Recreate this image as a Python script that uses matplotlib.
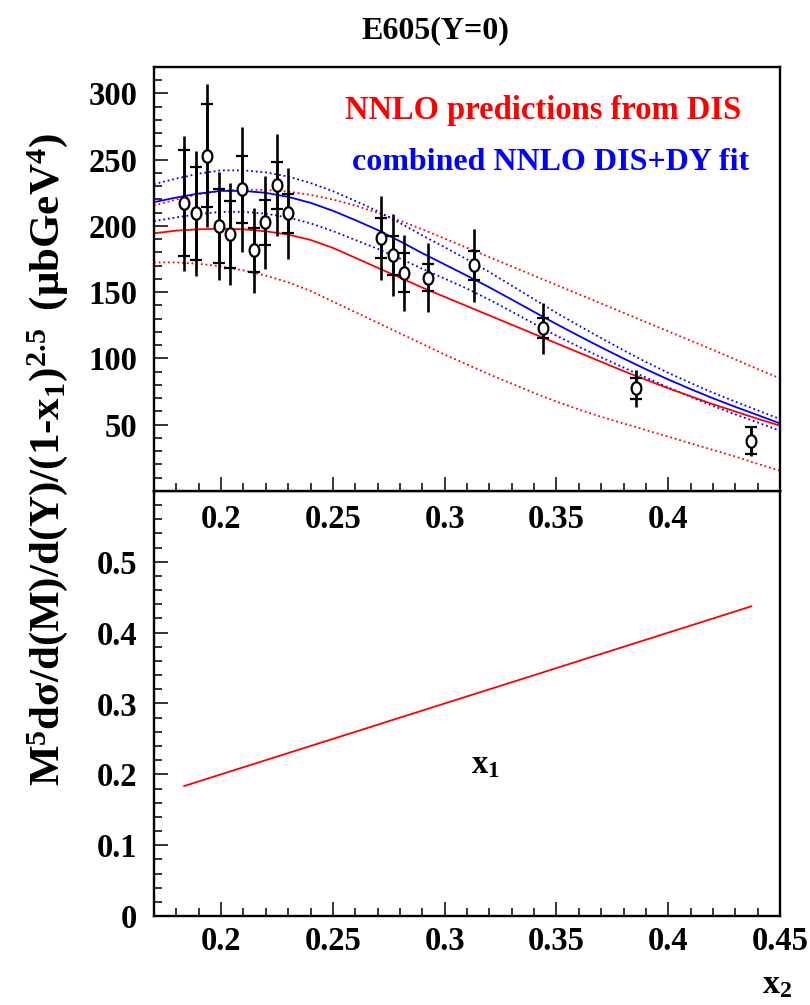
import matplotlib
matplotlib.use('Agg')
import matplotlib.pyplot as plt
from matplotlib.ticker import MultipleLocator, FixedLocator, FuncFormatter
from matplotlib.path import Path
from matplotlib.transforms import Affine2D

plt.rcParams['font.family'] = ['Liberation Serif', 'DejaVu Serif']
plt.rcParams['font.weight'] = 'bold'
plt.rcParams['mathtext.fontset'] = 'custom'
plt.rcParams['mathtext.rm'] = 'Liberation Serif:bold'
plt.rcParams['mathtext.it'] = 'Liberation Serif:bold'
plt.rcParams['mathtext.bf'] = 'Liberation Serif:bold'
plt.rcParams['mathtext.sf'] = 'Liberation Serif:bold'

# ---------------- data ----------------
x2 = [0.1835, 0.1887, 0.1939, 0.1989, 0.2041, 0.2094, 0.2146, 0.2197, 0.2248,
      0.2300, 0.2715, 0.2767, 0.2820, 0.2925, 0.3131, 0.3441, 0.3855, 0.4372]
xsec = [217.0, 209.5, 253.0, 200.0, 193.6, 227.6, 181.8, 202.9, 230.6,
        209.5, 191.0, 177.8, 164.7, 161.0, 170.5, 122.7, 77.5, 38.0]
err_stat = [40.0, 35.0, 39.0, 28.0, 25.5, 25.5, 16.5, 17.0, 18.0,
            14.5, 15.0, 15.0, 14.6, 10.0, 11.0, 7.6, 7.9, 10.0]
err_tot = [51.0, 47.0, 54.0, 41.0, 38.5, 47.0, 32.0, 35.0, 38.5,
           34.5, 32.0, 31.0, 28.5, 26.0, 27.6, 19.5, 13.9, 11.3]
x1 = [0.1835, 0.1887, 0.1939, 0.1989, 0.2041, 0.2094, 0.2146, 0.2197, 0.2248,
      0.2300, 0.2715, 0.2767, 0.2820, 0.2925, 0.3131, 0.3441, 0.3855, 0.4372]

curve_x = [0.17, 0.18, 0.19, 0.20, 0.21, 0.22, 0.23, 0.24, 0.25, 0.26,
           0.27, 0.28, 0.29, 0.30, 0.31, 0.32, 0.33, 0.34, 0.35, 0.36,
           0.37, 0.38, 0.39, 0.40, 0.41, 0.42, 0.43, 0.44, 0.45]
dis_central = [194.5, 196.5, 197.5, 198.0, 197.5, 196.0, 193.5, 189.5, 183.5, 176.0,
               168.5, 161.0, 153.5, 146.5, 139.5, 132.5, 125.5, 118.5, 111.5, 104.5,
               97.5, 90.5, 84.0, 77.5, 71.5, 65.5, 60.0, 54.5, 49.3]
dis_upper = [215.5, 220.0, 224.0, 226.5, 227.5, 227.2, 226.0, 223.5, 220.0, 215.5,
             210.0, 204.0, 197.5, 190.5, 183.5, 176.5, 169.5, 162.5, 155.5, 148.5,
             141.5, 134.5, 127.5, 120.5, 113.5, 106.5, 99.3, 92.0, 85.0]
dis_lower = [172.5, 172.5, 171.5, 169.5, 166.5, 162.5, 157.5, 151.0, 143.0, 135.0,
             127.0, 119.0, 111.0, 103.0, 95.5, 88.0, 81.0, 74.0, 67.5, 61.5,
             56.0, 51.0, 46.0, 41.0, 36.0, 31.0, 26.0, 20.5, 15.3]
fit_central = [218.0, 221.5, 224.5, 226.5, 226.5, 225.0, 222.0, 217.5, 211.5, 204.5,
               197.0, 188.5, 179.5, 171.0, 162.5, 153.7, 144.5, 135.2, 126.0, 117.1,
               108.4, 100.0, 91.9, 84.2, 76.9, 70.0, 63.5, 57.3, 51.0]
fit_upper = [231.6, 235.8, 239.5, 242.0, 242.0, 240.5, 237.3, 232.5, 226.3, 219.0,
             211.2, 202.3, 192.9, 184.0, 174.8, 165.2, 155.0, 144.7, 134.5, 124.8,
             115.4, 106.2, 97.4, 89.2, 81.5, 74.2, 67.4, 60.9, 54.3]
fit_lower = [203.7, 206.5, 209.0, 210.7, 210.7, 209.3, 206.4, 202.0, 196.2, 189.5,
             182.8, 175.5, 167.7, 160.3, 152.7, 144.4, 135.4, 126.2, 117.2, 108.9,
             100.9, 93.2, 85.6, 78.2, 71.0, 64.2, 57.8, 51.7, 45.5]

top_xticks = [0.2, 0.25, 0.3, 0.35, 0.4]
bot_xticks = [0.2, 0.25, 0.3, 0.35, 0.4, 0.45]
top_yticks = [50, 100, 150, 200, 250, 300]
bot_yticks = [0, 0.1, 0.2, 0.3, 0.4, 0.5]

# ---------------- figure ----------------
W, H = 810, 1005
fig = plt.figure(figsize=(W / 100, H / 100), dpi=100)
L, Rr = 154 / W, 780 / W
ax_bot = fig.add_axes([L, 1 - 916 / H, Rr - L, (916 - 491) / H])
ax_top = fig.add_axes([L, 1 - 491 / H, Rr - L, (491 - 67) / H])

fs = 23.5
fmt = FuncFormatter(lambda v, p: f'{v:g}')
ell = Path.unit_circle().transformed(Affine2D().scale(0.78, 1.0))

RED = '#ff0000'
BLUE = '#0000ff'
dot = (0, (1.0, 1.6))

# top panel curves
ax_top.plot(curve_x, dis_upper, color=RED, lw=1.3, ls=dot)
ax_top.plot(curve_x, dis_lower, color=RED, lw=1.3, ls=dot)
ax_top.plot(curve_x, fit_upper, color=BLUE, lw=1.3, ls=dot)
ax_top.plot(curve_x, fit_lower, color=BLUE, lw=1.3, ls=dot)
ax_top.plot(curve_x, dis_central, color=RED, lw=1.3)
ax_top.plot(curve_x, fit_central, color=BLUE, lw=1.3)

# data
ax_top.errorbar(x2, xsec, yerr=err_tot, fmt='none', ecolor='black',
                elinewidth=1.9, capsize=0, zorder=4)
ax_top.errorbar(x2, xsec, yerr=err_stat, fmt='none', ecolor='black',
                elinewidth=1.9, capsize=4.5, capthick=1.6, zorder=4)
ax_top.plot(x2, xsec, ls='none', marker=ell, ms=9.0, mfc='white',
            mec='black', mew=1.6, zorder=5)

ax_top.text(0.305, 0.877, 'NNLO predictions from DIS', color=RED,
            fontsize=fs, fontweight='bold', transform=ax_top.transAxes,
            ha='left', va='baseline')
ax_top.text(0.316, 0.757, 'combined NNLO DIS+DY fit', color=BLUE,
            fontsize=fs - 0.5, fontweight='bold', transform=ax_top.transAxes,
            ha='left', va='baseline')

ax_top.set_xlim(0.17, 0.45)
ax_top.set_ylim(0, 320)
ax_top.xaxis.set_major_locator(FixedLocator(top_xticks))
ax_top.xaxis.set_minor_locator(MultipleLocator(0.01))
ax_top.yaxis.set_major_locator(FixedLocator(top_yticks))
ax_top.yaxis.set_minor_locator(MultipleLocator(10))
ax_top.xaxis.set_major_formatter(fmt)
ax_top.yaxis.set_major_formatter(fmt)

# bottom panel
ax_bot.plot(x2, x1, color=RED, lw=1.3)
ax_bot.text(0.529, 0.356, r'$\mathbf{x_{1}}$', fontsize=fs,
            transform=ax_bot.transAxes, ha='center', va='center')
ax_bot.set_xlim(0.17, 0.45)
ax_bot.set_ylim(0, 0.6)
ax_bot.xaxis.set_major_locator(FixedLocator(bot_xticks))
ax_bot.xaxis.set_minor_locator(MultipleLocator(0.01))
ax_bot.yaxis.set_major_locator(FixedLocator(bot_yticks))
ax_bot.yaxis.set_minor_locator(MultipleLocator(0.02))
ax_bot.xaxis.set_major_formatter(fmt)
ax_bot.yaxis.set_major_formatter(fmt)

for ax, xpad in ((ax_top, 9), (ax_bot, 7)):
    for s in ax.spines.values():
        s.set_linewidth(1.7)
    ax.tick_params(which='both', direction='in', top=False, right=False,
                   width=1.1, labelsize=fs)
    ax.tick_params(which='major', length=10)
    ax.tick_params(which='minor', length=5.5)
    ax.tick_params(axis='x', pad=xpad)
    ax.tick_params(axis='y', pad=12)
    for lab in ax.get_xticklabels() + ax.get_yticklabels():
        lab.set_fontweight('bold')

# titles / labels
fig.text(435 / W, 1 - 31 / H, 'E605(Y=0)', ha='center', va='center',
         fontsize=fs - 0.5, fontweight='bold')
fig.text(48 / W, 1 - 460 / H,
         r'$\mathbf{M^{5}d\sigma/d(M)/d(Y)/(1\text{-}x_{1})^{2.5}\ \,(\mu bGeV^{4})}$',
         rotation=90, ha='center', va='center', fontsize=31)
fig.text(792 / W, 1 - 985 / H, r'$\mathbf{x_{2}}$', ha='right', va='center',
         fontsize=fs + 1)

fig.savefig('out.png', dpi=100, facecolor='white')
